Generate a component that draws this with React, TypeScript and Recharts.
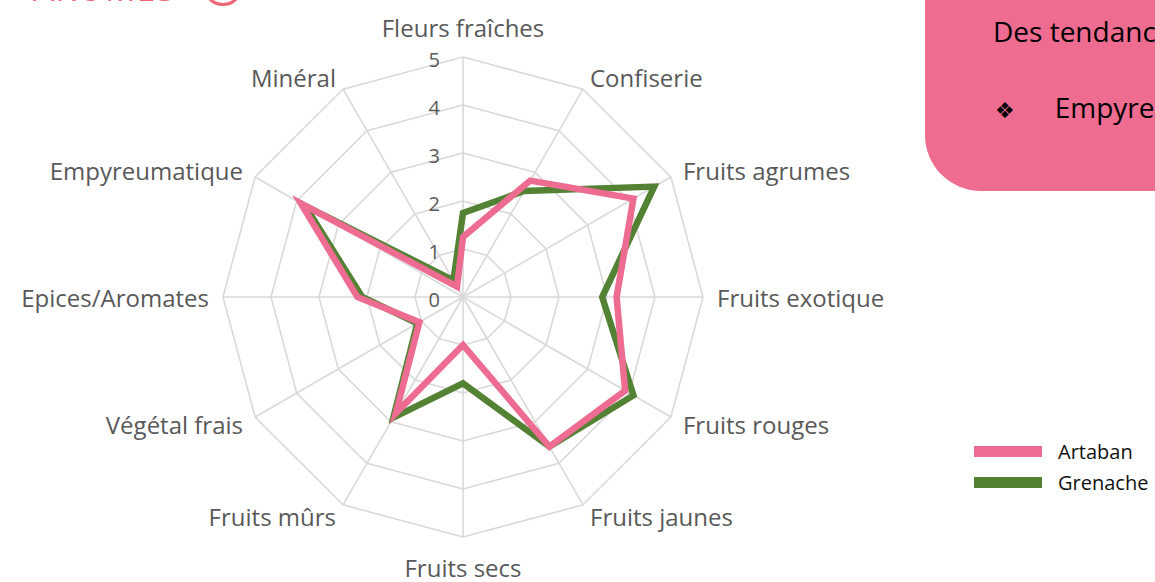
import React from 'react'
import { RadarChart, Radar, PolarGrid, PolarAngleAxis, PolarRadiusAxis, Legend } from 'recharts'

const aromes = [
  'Fleurs fraîches',
  'Confiserie',
  'Fruits agrumes',
  'Fruits exotique',
  'Fruits rouges',
  'Fruits jaunes',
  'Fruits secs',
  'Fruits mûrs',
  'Végétal frais',
  'Epices/Aromates',
  'Empyreumatique',
  'Minéral',
]
const artaban = [1.25, 2.8, 4.1, 3.2, 3.9, 3.6, 1.0, 2.8, 1.05, 2.2, 3.9, 0.25]
const grenache = [1.75, 2.55, 4.6, 2.9, 4.1, 3.6, 1.8, 2.9, 1.1, 2.1, 3.8, 0.4]
const radiusTicks = [0, 1, 2, 3, 4, 5]

const PINK = '#EE6C91'
const GREEN = '#548235'
const GRID = '#D9D9D9'
const TEXT = '#595959'
const FONT = '"Open Sans", sans-serif'

const CX = 463
const CY = 297
const R = 240

const data = aromes.map((a, i) => ({ arome: a, Artaban: artaban[i], Grenache: grenache[i] }))

function AngleTick(props: any) {
  const angle = (props.payload.coordinate * Math.PI) / 180
  const cos = Math.cos(angle)
  const sin = Math.sin(angle)
  let x = CX + (R + 14) * cos
  let y = CY - (R + 14) * sin
  let anchor = 'middle'
  if (cos > 0.01) anchor = 'start'
  else if (cos < -0.01) anchor = 'end'
  else y += sin > 0 ? -16 : 16
  return (
    <text x={x} y={y} textAnchor={anchor} dominantBaseline="central" fill={TEXT} fontSize={24} fontFamily={FONT}>
      {props.payload.value}
    </text>
  )
}

function RadiusTick(props: any) {
  return (
    <text x={CX - 23} y={props.y + 2} textAnchor="end" dominantBaseline="central" fill={TEXT} fontSize={20} fontFamily={FONT}>
      {props.payload.value}
    </text>
  )
}

const legendOrder = [
  { name: 'Artaban', color: PINK },
  { name: 'Grenache', color: GREEN },
]

function LegendBox() {
  return (
    <div style={{ fontFamily: FONT, fontSize: 20, color: '#111' }}>
      {legendOrder.map((l) => (
        <div key={l.name} style={{ display: 'flex', alignItems: 'center', height: 31 }}>
          <div style={{ width: 68, height: 11, background: l.color, marginRight: 16 }} />
          <span>{l.name}</span>
        </div>
      ))}
    </div>
  )
}

export default function App() {
  return (
    <div style={{ position: 'absolute', left: 0, top: 0, width: 1155, height: 582, overflow: 'hidden', background: '#fff' }}>
      <div style={{ position: 'absolute', left: 33, top: -29, fontFamily: FONT, fontSize: 34, color: '#EC6677', letterSpacing: 1, lineHeight: '34px', whiteSpace: 'nowrap' }}>
        AROMES
      </div>
      <div style={{ position: 'absolute', left: 203, top: -34, width: 34, height: 34, borderRadius: '50%', border: '3px solid #EC6677' }} />

      <div style={{ position: 'absolute', left: 925, top: -10, width: 260, height: 201, background: '#EE6C90', borderBottomLeftRadius: 56 }} />
      <div style={{ position: 'absolute', left: 993, top: 12, fontFamily: FONT, fontSize: 28, color: '#000', whiteSpace: 'nowrap' }}>
        Des tendances
      </div>
      <div style={{ position: 'absolute', left: 995, top: 88, fontFamily: FONT, fontSize: 28, color: '#000', whiteSpace: 'nowrap' }}>
        <span style={{ fontFamily: '"DejaVu Sans", sans-serif', fontSize: 22, marginRight: 40 }}>❖</span>
        Empyreumatique
      </div>

      <RadarChart width={1155} height={582} data={data} cx={CX} cy={CY} outerRadius={R} margin={{ top: 0, right: 0, bottom: 0, left: 0 }}>
        <PolarGrid gridType="polygon" stroke={GRID} strokeWidth={1.6} />
        <PolarAngleAxis dataKey="arome" tick={<AngleTick />} tickLine={false} axisLine={false} />
        <PolarRadiusAxis angle={90} domain={[0, 5]} ticks={radiusTicks} tickCount={6} axisLine={false} tick={<RadiusTick />} />
        <Radar dataKey="Grenache" stroke={GREEN} strokeWidth={6.5} fill="none" fillOpacity={0} dot={false} isAnimationActive={false} />
        <Radar dataKey="Artaban" stroke={PINK} strokeWidth={6.5} fill="none" fillOpacity={0} dot={false} isAnimationActive={false} />
        <Legend content={<LegendBox />} wrapperStyle={{ position: 'absolute', left: 974, top: 436, width: 180 }} />
      </RadarChart>
    </div>
  )
}
